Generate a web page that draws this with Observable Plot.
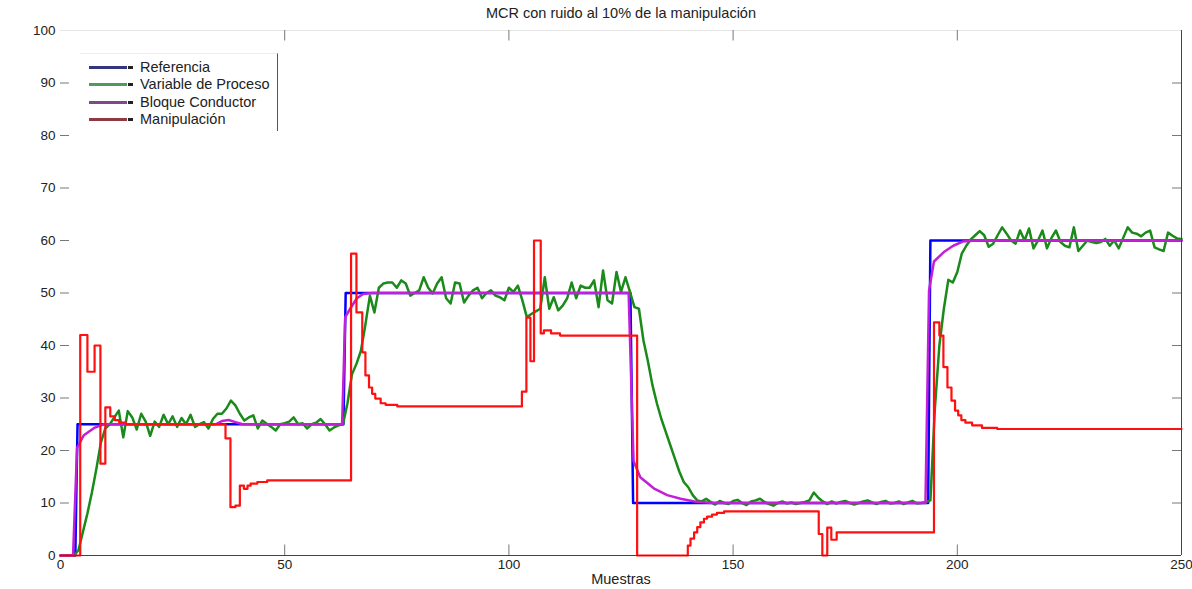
<!DOCTYPE html>
<html>
<head>
<meta charset="utf-8">
<script src="https://cdn.jsdelivr.net/npm/d3@7"></script>
<script src="https://cdn.jsdelivr.net/npm/@observablehq/plot@0.6"></script>
<style>
  html, body { margin: 0; padding: 0; background: #fff; }
  body { font-family: "Liberation Sans", Arial, sans-serif; color: #222; }
  #wrap { position: relative; width: 1192px; height: 589px; overflow: hidden; }
  #chart { position: absolute; left: 0; top: 0; }
  #title { position: absolute; left: 0; width: 1242px; top: 5px; text-align: center; font-size: 14.5px; color: #222; }
  #xlabel { position: absolute; left: 0; width: 1242px; top: 571px; text-align: center; font-size: 14.5px; color: #222; }
  #legend { position: absolute; left: 80px; top: 53px; width: 197px; height: 77px; background: #fff;
            border-right: 1px solid #555; border-top: 1px solid #eee; }
  .row { position: absolute; left: 0; height: 16px; font-size: 14.5px; line-height: 16px; }
  .sw { position: absolute; left: 9px; top: 7px; width: 38px; height: 3px; }
  .dash { position: absolute; left: 48px; top: 7px; width: 5px; height: 3px; background: #222; }
  .lab { position: absolute; left: 60px; top: 0; white-space: nowrap; color: #222; }
</style>
</head>
<body>
<div id="wrap">
  <div id="chart"></div>
  <div id="title">MCR con ruido al 10% de la manipulación</div>
  <div id="xlabel">Muestras</div>
  <div id="legend"></div>
</div>
<script>
// ---- tick labels ----
const xTicks = [0, 50, 100, 150, 200, 250];
const yTicks = [0, 10, 20, 30, 40, 50, 60, 70, 80, 90, 100];

// ---- legend ----
const seriesNames = ["Referencia", "Variable de Proceso", "Bloque Conductor", "Manipulación"];
const legendColors = ["#35357e", "#4f9a5c", "#7c4a86", "#8e3a44"];

// ---- Referencia (sample, value) ----
const refX = [0, 3.3, 3.8, 63.1, 63.6, 127.1, 127.7, 193.5, 194, 250];
const refY = [0, 0, 25, 25, 50, 50, 10, 10, 60, 60];

// ---- Bloque Conductor (sample, value) ----
const condX = [0, 2.8, 3.7, 5.2, 7.5, 9.7, 34.6, 36, 37.5, 39, 40.6, 62.8, 63.5, 64.6, 66.1, 67.5, 69.5,
  126.7, 127.8, 129.3, 132.3, 135.3, 138.3, 141.4, 145.4, 192.9, 193.7, 194.8, 197, 199.1, 201.2, 204.2, 250];
const condY = [0, 0, 20.5, 22.9, 24.3, 25, 25, 25.6, 25.8, 25.4, 25, 25, 45.4, 47, 49, 49.8, 50,
  50, 18, 14.9, 12.8, 11.5, 10.8, 10.3, 10, 10, 50.5, 56, 57.8, 59, 59.8, 60, 60];

// ---- Variable de Proceso: one value per sample 0..250 ----
const pvValues = [
  0, 0, 0, 0, 1, 4.5, 8, 12, 16.5, 21.5,
  24.2, 25, 26.3, 27.6, 22.5, 27.5, 26.3, 24, 27, 25.5,
  22.8, 25.5, 24.5, 26.8, 25, 26.5, 24.5, 26.2, 25, 26.8,
  24.5, 25, 25.4, 24.2, 26, 27, 27, 28, 29.5, 28.6,
  27, 25.7, 26.3, 26.7, 24.2, 25.7, 25.1, 24.5, 23.8, 25,
  25.2, 25.5, 26.3, 25, 25.2, 24.2, 25, 25.3, 26, 25,
  23.8, 24.4, 24.8, 25, 29, 34.5, 36.5, 39, 44, 49.5,
  46.3, 51, 51.8, 52, 52, 51, 52.4, 51.8, 49.5, 50,
  50.5, 53, 51, 49.9, 51.8, 53, 49, 48, 52, 51.8,
  48.2, 49.5, 50.5, 51, 49, 50, 50.5, 49.5, 49.2, 48.6,
  51, 50.2, 51.4, 48.6, 45.4, 46, 46.5, 47, 53, 47,
  49.2, 46.7, 47.6, 49, 52, 49, 51.4, 51, 51, 52.4,
  47.3, 54.3, 48.6, 48, 54, 50.2, 53, 50.2, 47.3, 47,
  41, 37, 32.5, 29, 26, 23.5, 21, 18.5, 16, 14,
  13, 11.5, 10.5, 10.3, 10.8, 10.2, 9.7, 10.4, 10, 9.8,
  10.4, 10.6, 10, 9.6, 10.3, 10.5, 10.8, 10.2, 9.8, 9.5,
  10, 10.3, 9.9, 10.1, 9.8, 10, 10.2, 10.5, 12, 11,
  10.3, 9.8, 10.3, 9.9, 10.2, 10.4, 10, 9.7, 10, 10.3,
  10.5, 10.1, 9.8, 10.2, 10.4, 9.9, 10, 10.3, 9.8, 10.1,
  10.4, 9.9, 10, 10.2, 10.5, 28, 40, 47, 52.5, 52,
  54, 57.5, 59, 60.2, 61, 61.8, 61, 58.8, 59.4, 61,
  62.5, 61.3, 60, 59.4, 61.9, 60, 62.3, 58.5, 60, 61.9,
  58.5, 60.5, 61.9, 59.7, 59, 58.7, 62.5, 58, 59, 60,
  59.7, 59.5, 59.7, 60.3, 59, 60, 58.5, 60.5, 62.5, 61.5,
  61.3, 60.8, 61.5, 61.9, 58.7, 58.3, 58, 61.5, 60.9, 60.4,
  60.3
];

// ---- Manipulación: stair breakpoints (sample, value) ----
const manX = [0, 4.4, 6, 7.6, 8.9, 10, 11.1, 12.1, 13.1, 14.6, 36.8, 37.9, 39, 40, 40.9, 41.7, 42.4, 43.9, 46.1,
  64.8, 66, 67.3, 68, 68.8, 69.5, 70.2, 71.4, 72.5, 75.1,
  102.9, 103.9, 104.8, 105.6, 107.1, 107.8, 109.4, 111.4,
  128.6, 139.9, 140.5, 141.3, 142, 142.7, 143.5, 144.2, 145.3, 146.4, 148,
  169.1, 169.9, 171, 171.9, 173.1,
  194.8, 196, 196.9, 197.8, 198.7, 199.5, 200.2, 200.9, 201.8, 203.3, 205.5, 208.9, 250];
const manY = [0, 42, 35, 40, 17.5, 28.2, 26.5, 25.8, 25.3, 25, 22.3, 9.2, 9.5, 13.3, 12.7, 13.3, 13.7, 14, 14.3,
  57.5, 46.3, 38.7, 34.3, 32, 30.8, 29.9, 29, 28.7, 28.4,
  31.2, 45.3, 37, 60, 42.3, 42.9, 42.3, 41.9,
  0, 1.9, 3.2, 4.4, 5.4, 6.3, 7, 7.4, 7.8, 8.1, 8.4,
  4.1, 0, 5.3, 3, 4.4,
  44.4, 41.9, 35.9, 32, 29.5, 27.6, 26.7, 25.8, 25.3, 24.8, 24.3, 24.1, 24.1];

// ---- build tables ----
const ref = refX.map((x, i) => ({x, y: refY[i]}));
const cond = condX.map((x, i) => ({x, y: condY[i]}));
const pv = pvValues.map((y, i) => ({x: i, y}));
const man = manX.map((x, i) => ({x, y: manY[i]}));

const inner = xTicks.slice(1, -1);
const innerY = yTicks.slice(1, -1);

const chart = Plot.plot({
  width: 1192,
  height: 589,
  marginLeft: 60,
  marginRight: 11,
  marginTop: 30,
  marginBottom: 34,
  style: {fontFamily: "'Liberation Sans', Arial, sans-serif", fontSize: "13.5px", color: "#222", background: "#fff"},
  x: {domain: [0, 250], ticks: xTicks, tickSize: 0, tickPadding: 4, label: null},
  y: {domain: [0, 100], ticks: yTicks, tickSize: 0, tickPadding: 5, label: null},
  marks: [
    Plot.ruleY([100], {stroke: "#e6e6e6"}),
    Plot.ruleX(inner, {y1: 0, y2: 2, stroke: "#777"}),
    Plot.ruleX(inner, {y1: 98, y2: 100, stroke: "#777"}),
    Plot.ruleY(innerY, {x1: 0, x2: 2, stroke: "#777"}),
    Plot.ruleY(innerY, {x1: 248, x2: 250, stroke: "#777"}),
    Plot.line(ref, {x: "x", y: "y", stroke: "#0000ff", strokeWidth: 2.5}),
    Plot.line(pv, {x: "x", y: "y", stroke: "#1a8a1a", strokeWidth: 2.5}),
    Plot.line(cond, {x: "x", y: "y", stroke: "#c21fd6", strokeWidth: 2.5}),
    Plot.line(man, {x: "x", y: "y", stroke: "#ff1010", strokeWidth: 2.2, curve: "step-after"}),
    Plot.ruleY([0], {stroke: "#444"}),
    Plot.ruleX([250], {stroke: "#444"})
  ]
});
document.getElementById("chart").appendChild(chart);

// legend
const leg = document.getElementById("legend");
seriesNames.forEach((name, i) => {
  const row = document.createElement("div");
  row.className = "row";
  row.style.top = (5 + i * 17.3) + "px";
  row.style.width = "197px";
  row.innerHTML = `<span class="sw" style="background:${legendColors[i]}"></span><span class="dash"></span><span class="lab">${name}</span>`;
  leg.appendChild(row);
});
</script>
</body>
</html>
